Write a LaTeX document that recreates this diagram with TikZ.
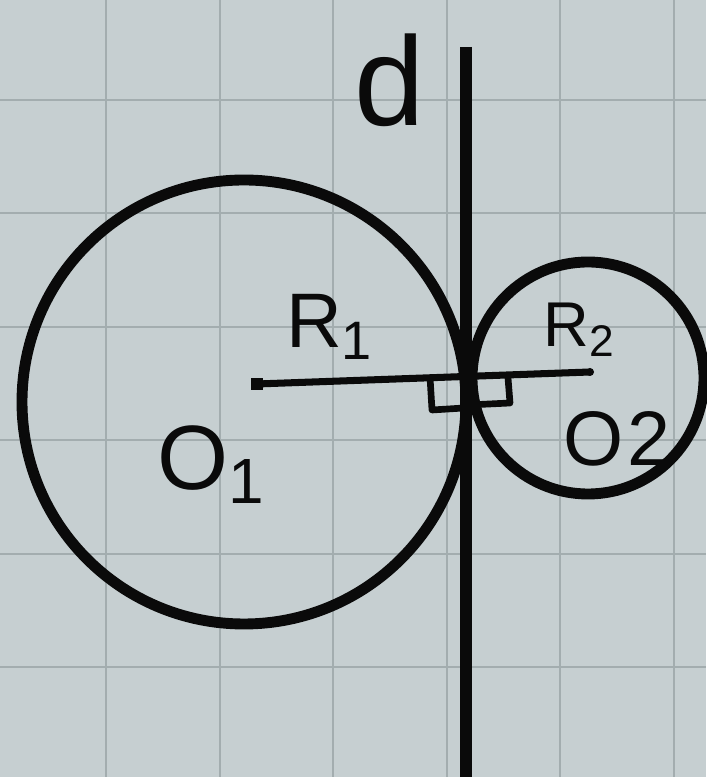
\documentclass[tikz,border=0pt]{standalone}
\usepackage{fontspec}
\setmainfont{Liberation Sans}
\usepackage{xcolor}
\usetikzlibrary{positioning,calc}
\definecolor{paper}{HTML}{C6CFD1}
\definecolor{rule}{HTML}{A3ADAF}
\definecolor{ink}{HTML}{0A0A0A}
\tikzset{
  gridl/.style={draw=rule, line width=0.6pt},
  circ/.style ={draw=ink, line width=3.1pt},
  dline/.style={draw=ink, line width=3.6pt},
  rad/.style  ={draw=ink, line width=2pt, line cap=round},
  rmark/.style={draw=ink, line width=1.9pt, line join=round},
  lbl/.style  ={text=ink, inner sep=0pt, font=\fontsize{22}{24}\selectfont},
}
\begin{document}
\begin{tikzpicture}
        \fill[paper] (0,0) rectangle (7.06,7.77);
        \useasboundingbox (0,0) rectangle (7.06,7.77);
        \foreach \gx in {1.06,2.20,3.33,4.47,5.60,6.74}
          \draw[gridl] (\gx,0) -- (\gx,7.77);
        \foreach \gy in {1.10,2.23,3.37,4.50,5.64,6.77}
          \draw[gridl] (0,\gy) -- (7.06,\gy);
        % centres and line d
        \coordinate (C1) at (2.44,3.75);
        \coordinate (C2) at (5.88,3.99);
        \coordinate (Dtop) at (4.66,7.30);
        \coordinate (Dbot) at (4.66,0);
        \coordinate (P1) at (2.57,3.93);
        \coordinate (P2) at (5.90,4.05);
        \draw[circ] (C1) circle (2.22);
        \draw[circ] (C2) circle (1.16);
        \draw[dline] (Dtop) -- (Dbot);
        \draw[rad] (P1) -- (P2);
        \fill[ink] ($(P1)+(-0.06,-0.06)$) rectangle ($(P1)+(0.06,0.06)$);
        \fill[ink] (P2) circle (0.04);
        % right angles
        \coordinate (A1) at (4.30,4.00);
        \coordinate (A2) at (4.32,3.67);
        \coordinate (A3) at (4.64,3.69);
        \coordinate (B1) at (5.08,3.99);
        \coordinate (B2) at (5.10,3.74);
        \coordinate (B3) at (4.68,3.72);
        \draw[rmark] (A1) -- (A2) -- (A3);
        \draw[rmark] (B1) -- (B2) -- (B3);
        % labels
        \node[lbl, font=\fontsize{36}{40}\selectfont] (d) at (3.90,6.97) {d};
        \node[lbl] (r1) at (3.30,4.50) {R\textsubscript{1}};
        \node[lbl, font=\fontsize{18}{20}\selectfont] (r2) at (5.80,4.47) {R\textsubscript{2}};
        \node[lbl, font=\fontsize{26}{28}\selectfont] (o1) at (2.12,3.12) {O\textsubscript{1}};
        \node[lbl] (o2) at (6.17,3.38) {O\kern1pt2};
      \end{tikzpicture}
\end{document}
